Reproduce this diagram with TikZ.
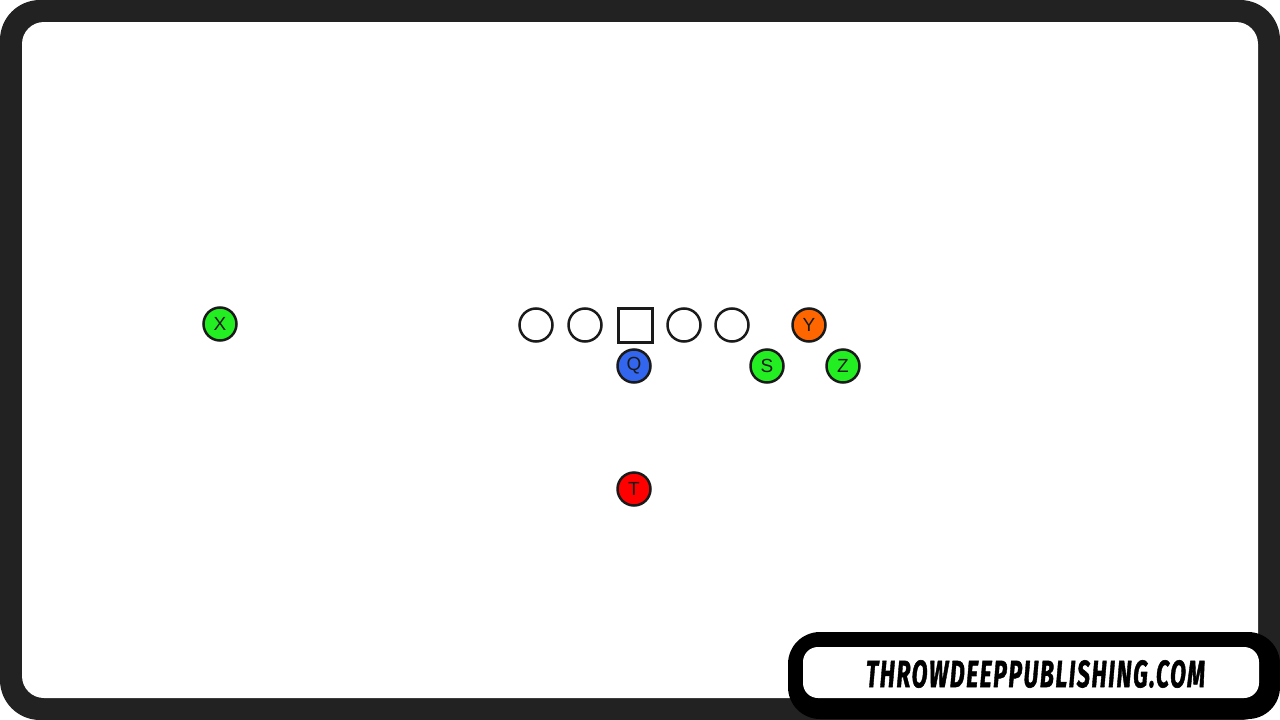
\documentclass[tikz,border=0pt]{standalone}
\usepackage{fontspec}
\setmainfont{Liberation Sans}
\newfontfamily\logofont{Fira Sans}[LetterSpace=7, BoldItalicFeatures={FakeBold=1.6}]
\usepackage{graphicx}
\usepackage{xcolor}
\definecolor{framegray}{HTML}{222222}
\definecolor{playgreen}{HTML}{22EE22}
\definecolor{playblue}{HTML}{3366EE}
\definecolor{playorange}{HTML}{FF6600}
\definecolor{playred}{HTML}{FF0000}
\definecolor{ink}{HTML}{1A1A1A}

\begin{document}
\begin{tikzpicture}[x=1pt,y=-1pt,
    man/.style={shape=circle, minimum size=33pt, inner sep=0pt, draw=ink, line width=2.5pt,
      font=\fontsize{19}{19}\selectfont, text=ink},
    lineman/.style={man, fill=white},
    center/.style={shape=rectangle, minimum size=34pt, inner sep=0pt, draw=ink, line width=3pt, fill=white}]
    \useasboundingbox (0,0) rectangle (1280,720);
    \fill[white] (0,0) rectangle (1280,720);
    \fill[framegray,rounded corners=40pt] (0,0) rectangle (1280,720);
    \fill[white,rounded corners=22pt] (22,22) rectangle (1258,698);

    % offensive line
    \node[lineman] (lt) at (536,325) {};
    \node[lineman] (lg) at (585,325) {};
    \node[center] (c) at (635,325) {};
    \node[lineman] (rg) at (684,325) {};
    \node[lineman] (rt) at (732,325) {};

    % skill players
    \node[man,fill=playgreen] (x) at (220,324) {X};
    \node[man,fill=playorange] (y) at (809,325) {Y};
    \node[man,fill=playblue] (q) at (634,366) {Q};
    \node[man,fill=playgreen] (s) at (767,366) {S};
    \node[man,fill=playgreen] (z) at (843,366) {Z};
    \node[man,fill=playred] (t) at (634,489) {T};

    % logo
    \fill[black,rounded corners=32pt] (788,632) rectangle (1280,719);
    \fill[white,rounded corners=15pt] (803,647) rectangle (1259,698);
    \node[inner sep=0pt] (logo) at (1035.5,674) {\resizebox{339pt}{27pt}{\logofont\bfseries\itshape THROWDEEPPUBLISHING.COM}};
  \end{tikzpicture}
\end{document}
